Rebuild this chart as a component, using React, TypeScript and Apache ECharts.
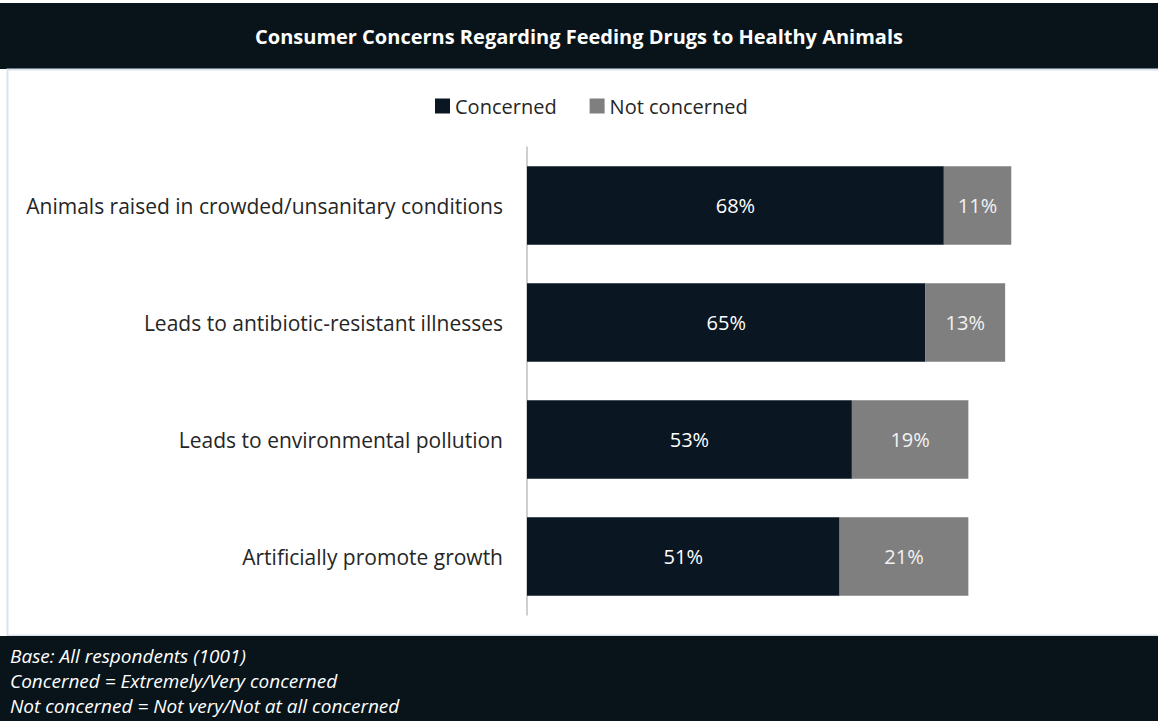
import React, { useEffect, useRef } from "react";
import * as echarts from "echarts";

const categories = [
  "Animals raised in crowded/unsanitary conditions",
  "Leads to antibiotic-resistant illnesses",
  "Leads to environmental pollution",
  "Artificially promote growth",
];
const concerned = [68, 65, 53, 51];
const notConcerned = [11, 13, 19, 21];
const titleText = "Consumer Concerns Regarding Feeding Drugs to Healthy Animals";
const footnotes = [
  "Base: All respondents (1001)",
  "Concerned = Extremely/Very concerned",
  "Not concerned = Not very/Not at all concerned",
];

const FONT = "'Open Sans'";
const DARK = "#0a1723";
const BAND = "#08141a";

export default function App() {
  const ref = useRef<HTMLDivElement>(null);
  useEffect(() => {
    document.body.style.margin = "0";
    const chart = echarts.init(ref.current!, null, { renderer: "svg" });
    chart.setOption({
      animation: false,
      backgroundColor: "#ffffff",
      textStyle: { fontFamily: FONT },
      graphic: [
        { type: "rect", shape: { x: 0, y: 3, width: 1158, height: 66 }, style: { fill: BAND } },
        {
          type: "rect",
          shape: { x: 7.5, y: 69.5, width: 1160, height: 566 },
          style: { fill: "none", stroke: "#d9e3ef", lineWidth: 2 },
        },
        { type: "rect", shape: { x: 0, y: 636, width: 1158, height: 85 }, style: { fill: BAND } },
        {
          type: "text",
          x: 579,
          y: 36,
          style: {
            text: titleText,
            fill: "#ffffff",
            font: `bold 20px ${FONT}`,
            align: "center",
            verticalAlign: "middle",
          },
        },
        ...footnotes.map((t, i) => ({
          type: "text",
          x: 10,
          y: 656 + i * 25,
          style: {
            text: t,
            fill: "#ffffff",
            font: `italic 19px ${FONT}`,
            align: "left",
            verticalAlign: "middle",
          },
        })),
      ],
      legend: {
        data: ["Concerned", "Not concerned"],
        top: 91,
        left: 430,
        icon: "rect",
        itemWidth: 15,
        itemHeight: 15,
        itemGap: 33,
        textStyle: { fontSize: 20, color: "#262626", fontFamily: FONT },
      },
      grid: { left: 527, top: 147, right: 18, bottom: 106, containLabel: false },
      xAxis: {
        type: "value",
        min: 0,
        max: 100,
        show: false,
      },
      yAxis: {
        type: "category",
        data: categories,
        inverse: true,
        axisLine: { show: true, lineStyle: { color: "#bfbfbf", width: 1.5 } },
        axisTick: { show: false },
        axisLabel: { fontSize: 21, color: "#262626", fontFamily: FONT, margin: 24 },
      },
      series: [
        {
          name: "Concerned",
          type: "bar",
          stack: "a",
          data: concerned,
          barWidth: "67%",
          itemStyle: { color: DARK },
          label: {
            show: true,
            position: "inside",
            formatter: "{c}%",
            color: "#ffffff",
            fontSize: 20,
            fontFamily: FONT,
          },
        },
        {
          name: "Not concerned",
          type: "bar",
          stack: "a",
          data: notConcerned,
          barWidth: "67%",
          itemStyle: { color: "#7f7f7f" },
          label: {
            show: true,
            position: "inside",
            formatter: "{c}%",
            color: "#f2f2f2",
            fontSize: 20,
            fontFamily: FONT,
          },
        },
      ],
    });
    return () => chart.dispose();
  }, []);
  return (
    <div
      ref={ref}
      style={{ position: "absolute", left: 0, top: 0, width: 1158, height: 721 }}
    />
  );
}
